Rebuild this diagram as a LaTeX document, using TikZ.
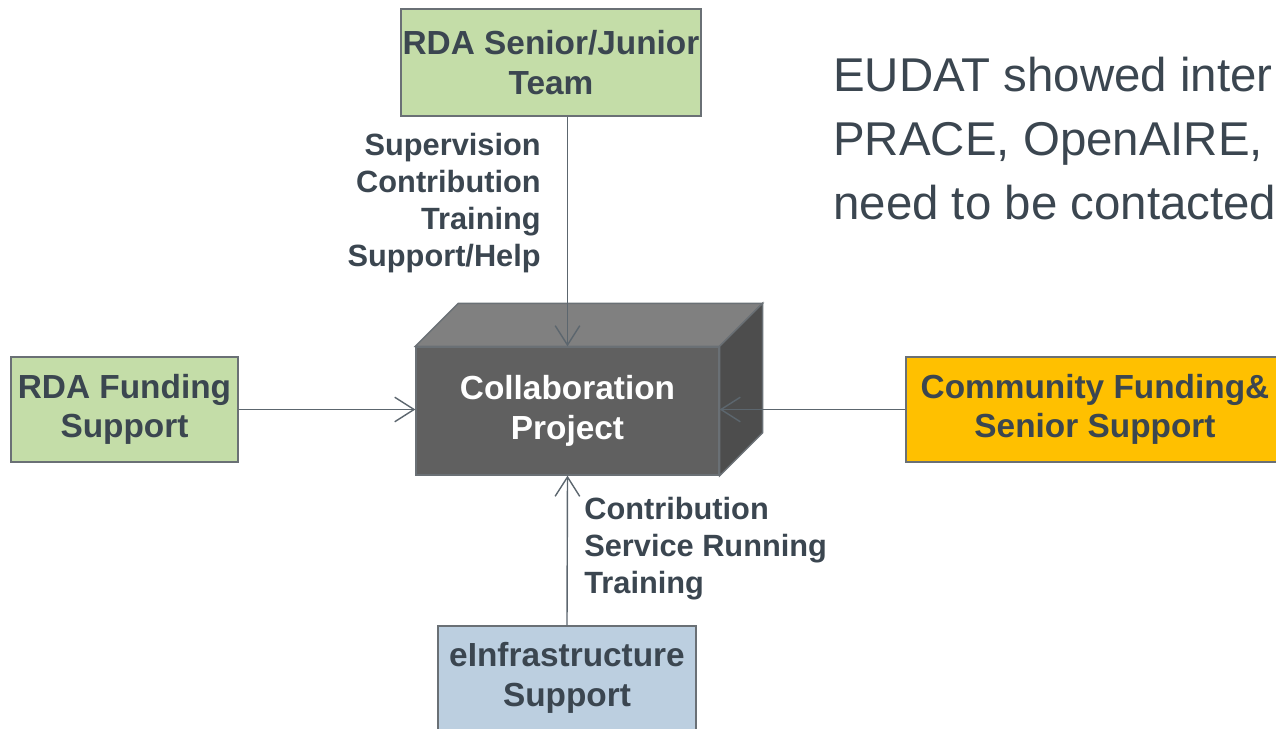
\documentclass[tikz,border=0pt]{standalone}
\usepackage{fontspec}
\setmainfont{Liberation Sans}
\usetikzlibrary{arrows.meta}
\definecolor{inkgrey}{HTML}{3B4650}
\definecolor{edgegrey}{HTML}{6A7075}
\definecolor{linegrey}{HTML}{5C666E}
\definecolor{rdagreen}{HTML}{C4DDA8}
\definecolor{commorange}{HTML}{FFC000}
\definecolor{infrablue}{HTML}{BCCFE0}
\definecolor{cubefront}{HTML}{606060}
\definecolor{cubetop}{HTML}{808080}
\definecolor{cubeside}{HTML}{4D4D4D}
\tikzset{
  box/.style={draw=edgegrey, line width=0.8pt, text=inkgrey, align=center, inner sep=0pt,
    font=\fontsize{19}{22.5}\selectfont\bfseries},
  lbl/.style={text=inkgrey, inner sep=0pt, font=\fontsize{17.5}{21}\selectfont\bfseries},
  link/.style={draw=linegrey, line width=0.8pt, -{Straight Barb[length=11pt,width=14pt]}}
}
\begin{document}
\begin{tikzpicture}[x=0.02cm, y=-0.02cm]
    \useasboundingbox (0,0) rectangle (1276,729);
    % boxes
    \node[box, fill=rdagreen, minimum width=6cm, minimum height=2.14cm] (team) at (551, 62.5) {RDA Senior/Junior\\Team};
    \node[box, fill=rdagreen, minimum width=4.54cm, minimum height=2.1cm] (funding) at (124.5, 409.5) {RDA Funding\\Support};
    \node[box, fill=commorange, minimum width=7.56cm, minimum height=2.1cm] (community) at (1095, 409.5) {Community Funding\&\\Senior Support};
    \node[box, fill=infrablue, minimum width=5.16cm, minimum height=2.08cm] (infra) at (567, 678) {eInfrastructure\\Support};
    % cube
    \node[box, fill=cubefront, text=white, minimum width=6.06cm, minimum height=2.56cm] (collab) at (567.5, 411) {Collaboration\\Project};
    \draw[edgegrey, line width=0.8pt, fill=cubetop] (collab.north west) -- ++(43,-43) -- ([shift={(43,-43)}]collab.north east) -- (collab.north east) -- cycle;
    \draw[edgegrey, line width=0.8pt, fill=cubeside] (collab.north east) -- ++(43,-43) -- ([shift={(43,-43)}]collab.south east) -- (collab.south east) -- cycle;
    % connectors
    \draw[link] (team.south -| collab.north) -- (collab.north);
    \draw[link] (funding.east) -- (funding.east -| collab.west);
    \draw[link] (community.west) -- (community.west -| collab.east);
    \draw[link] (infra.north) -- (collab.south);
    % labels
    \node[lbl, align=right, anchor=east] (toplbl) at (541, 203) {Supervision\\Contribution\\Training\\Support/Help};
    \node[lbl, align=left, anchor=west] (botlbl) at (584, 549) {Contribution\\Service Running\\Training};
    \node[text=inkgrey, inner sep=0pt, align=left, anchor=north west, font=\fontsize{27}{36.5}\selectfont] (note) at (833, 57) {EUDAT showed inter\\PRACE, OpenAIRE,\\need to be contacted};
\end{tikzpicture}
\end{document}
